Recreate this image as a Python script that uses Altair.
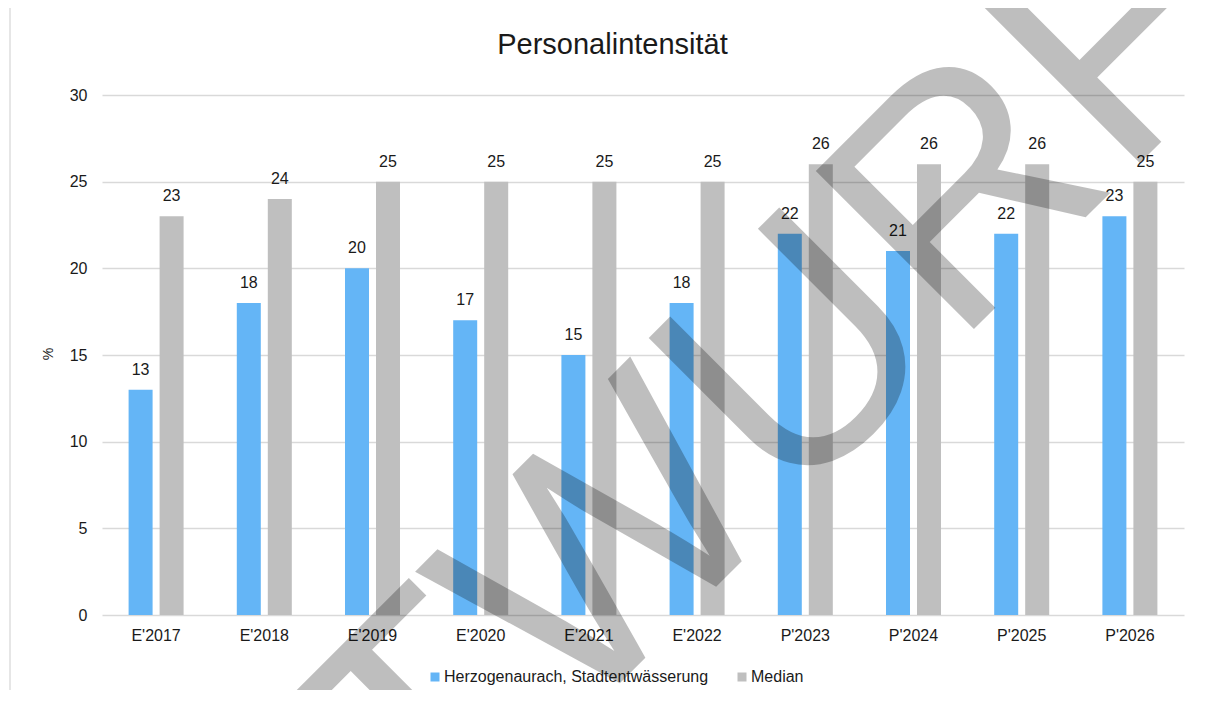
import altair as alt
import pandas as pd

# ---- data ----
categories = ["E'2017", "E'2018", "E'2019", "E'2020", "E'2021",
              "E'2022", "P'2023", "P'2024", "P'2025", "P'2026"]
series_names = ["Herzogenaurach, Stadtentwässerung", "Median"]
herzogenaurach = [13, 18, 20, 17, 15, 18, 22, 21, 22, 23]
median = [23, 24, 25, 25, 25, 25, 26, 26, 26, 25]
y_ticks = [0, 5, 10, 15, 20, 25, 30]
colors = ["#64B5F6", "#BFBFBF"]
title_text = ["Personalintensität"]
y_title = ["%"]
watermark = ["ENTWURF"]

rows = []
for c, h, m in zip(categories, herzogenaurach, median):
    rows.append({"Jahr": c, "Reihe": series_names[0], "Wert": h})
    rows.append({"Jahr": c, "Reihe": series_names[1], "Wert": m})
df = pd.DataFrame(rows)

W, H = 1082, 520
FONT = "Liberation Sans"
TXT = "#1A1A1A"

x = alt.X(
    "Jahr:N", sort=categories,
    scale=alt.Scale(paddingInner=0, paddingOuter=0),
    axis=alt.Axis(title=None, labelAngle=0, labelFontSize=16, labelFont=FONT,
                  labelColor=TXT, labelPadding=12, ticks=False, tickSize=0,
                  domain=False, grid=False),
)
xo = alt.XOffset("Reihe:N", sort=series_names,
                 scale=alt.Scale(domain=series_names, paddingInner=0.2258, paddingOuter=0.858))
y = alt.Y(
    "Wert:Q",
    scale=alt.Scale(domain=[0, 30], nice=False),
    axis=alt.Axis(title=None, values=y_ticks, grid=True, gridColor="#D9D9D9",
                  gridWidth=1.3, domain=False, ticks=False, tickSize=0,
                  labelPadding=15, labelFontSize=16, labelFont=FONT, labelColor=TXT),
)

base = alt.Chart(df).encode(x=x, xOffset=xo, y=y)

bars = base.mark_bar().encode(
    color=alt.Color(
        "Reihe:N", sort=series_names,
        scale=alt.Scale(domain=series_names, range=colors),
        legend=alt.Legend(orient="none", legendX=325, legendY=574,
                          direction="horizontal", title=None,
                          symbolType="square", symbolSize=81, symbolStrokeWidth=0,
                          symbolOpacity=1, labelFontSize=16, labelFont=FONT,
                          labelColor=TXT, labelOffset=1, columnPadding=25,
                          labelLimit=1000),
    )
)

labels = base.mark_text(baseline="alphabetic", dy=-15, fontSize=16, font=FONT,
                        color=TXT).encode(text="Wert:Q")

title = alt.Chart(pd.DataFrame({"t": title_text})).mark_text(
    fontSize=29, font=FONT, color=TXT, align="center", baseline="alphabetic"
).encode(x=alt.value(510.5), y=alt.value(-41), text="t:N")

ytitle = alt.Chart(pd.DataFrame({"t": y_title})).mark_text(
    fontSize=14, font=FONT, color=TXT, align="center", baseline="alphabetic", angle=270
).encode(x=alt.value(-49.5), y=alt.value(259), text="t:N")

border_top = alt.Chart(pd.DataFrame({"a": [0]})).mark_rule(
    color="#D9D9D9", strokeWidth=1.3
).encode(x=alt.value(-92), x2=alt.value(1150), y=alt.value(-88))
border_left = alt.Chart(pd.DataFrame({"a": [0]})).mark_rule(
    color="#D9D9D9", strokeWidth=1.3
).encode(x=alt.value(-92), y=alt.value(-88), y2=alt.value(720))

wm = alt.Chart(pd.DataFrame({"t": watermark})).mark_text(
    fontSize=325, font=FONT, color="#000000", opacity=0.25,
    align="center", baseline="alphabetic", angle=315
).encode(x=alt.value(585), y=alt.value(521), text="t:N")

chart = alt.layer(border_top, border_left, bars, labels, title, ytitle, wm).properties(
    width=W, height=H,
    autosize=alt.AutoSizeParams(type="none"),
    padding={"left": 94, "top": 87, "right": 10, "bottom": 75},
    background="white",
).configure_view(stroke="transparent")

chart.save("out.html", embed_options={"renderer": "svg", "actions": False})
